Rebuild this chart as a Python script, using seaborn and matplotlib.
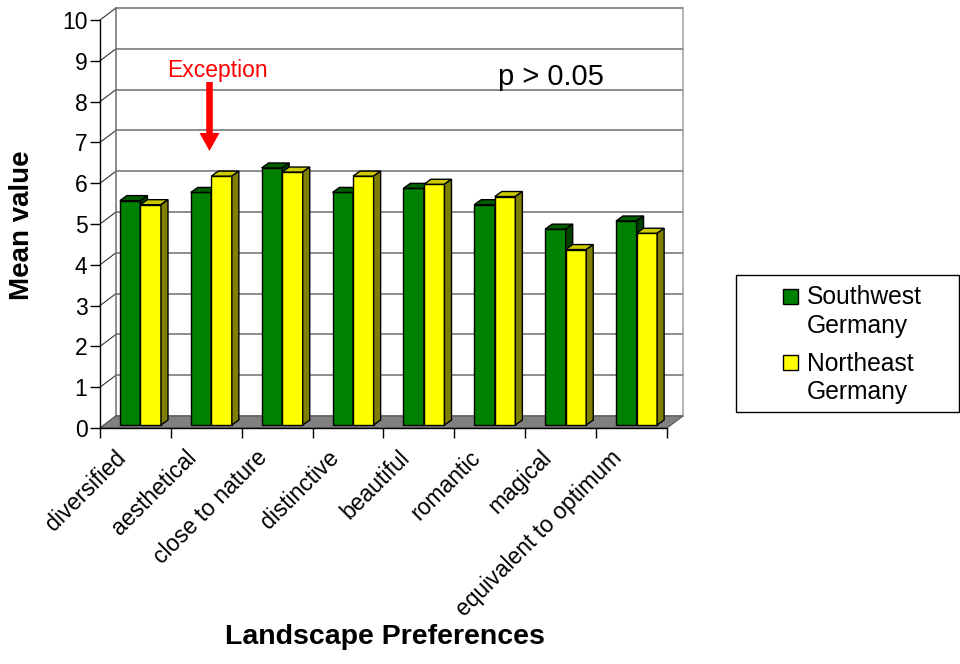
import numpy as np
import pandas as pd
import seaborn as sns
import matplotlib
matplotlib.use("Agg")
import matplotlib.pyplot as plt
from matplotlib.patches import Polygon, Rectangle, FancyArrowPatch
from matplotlib.transforms import ScaledTranslation

# ---- data -------------------------------------------------------------
categories = ["diversified", "aesthetical", "close to nature", "distinctive",
              "beautiful", "romantic", "magical", "equivalent to optimum"]
southwest = [5.5, 5.7, 6.3, 5.7, 5.8, 5.4, 4.8, 5.0]
northeast = [5.4, 6.1, 6.2, 6.1, 5.9, 5.6, 4.3, 4.7]
groups = ["Southwest Germany", "Northeast Germany"]
y_ticks = list(range(0, 11))

df = pd.DataFrame({
    "category": categories * 2,
    "value": southwest + northeast,
    "group": [groups[0]] * len(categories) + [groups[1]] * len(categories),
})

# ---- style ------------------------------------------------------------
sns.set_theme(style="ticks")
plt.rcParams["font.family"] = ["Liberation Sans", "DejaVu Sans"]
plt.rcParams.update({"text.color": "black", "axes.labelcolor": "black",
                     "xtick.color": "black", "ytick.color": "black"})

front_colors = ["#008000", "#FFFF00"]
top_colors = ["#005E00", "#CCCC00"]
side_colors = ["#004200", "#808000"]

fig = plt.figure(figsize=(9.6, 6.64), dpi=100)
W, H = 960, 664
ax = fig.add_axes([100 / W, (H - 428) / H, 567 / W, 408 / H])

sns.barplot(data=df, x="category", y="value", hue="group",
            palette=front_colors, saturation=1, width=0.58, gap=0,
            edgecolor="black", linewidth=1, ax=ax, legend=False)

ax.set_xlim(-0.5, 7.5)
ax.set_ylim(0, 10)

# pixel -> data scale factors
px_x = 567 / 8.0
px_y = 408 / 10.0
DX, DY = 16 / px_x, 12 / px_y        # depth of the floor / back wall
BX, BY = 7 / px_x, 5 / px_y          # depth of each bar

# ---- back wall, side wall and floor -----------------------------------
grid_c = "#6E6E6E"
for k in y_ticks:
    ax.plot([-0.5 + DX, 7.5 + DX], [k + DY, k + DY], color=grid_c, lw=1.1,
            clip_on=False, zorder=1)
    ax.plot([-0.5, -0.5 + DX], [k, k + DY], color="#333333", lw=0.8,
            clip_on=False, zorder=1)
ax.plot([-0.5 + DX, -0.5 + DX], [DY, 10 + DY], color=grid_c, lw=1.1,
        clip_on=False, zorder=1)
ax.plot([7.5 + DX, 7.5 + DX], [DY, 10 + DY], color="#A0A0A0", lw=1.1,
        clip_on=False, zorder=1)

floor = Polygon([(-0.5, 0), (7.5, 0), (7.5 + DX, DY), (-0.5 + DX, DY)],
                closed=True, facecolor="#808080", edgecolor="#555555",
                lw=0.8, clip_on=False, zorder=2)
ax.add_patch(floor)

# ---- 3-D bar faces ----------------------------------------------------
shift = ax.transData + ScaledTranslation(5 / 100, 3 / 100, fig.dpi_scale_trans)
for j, cont in enumerate(ax.containers):
    for bar in cont:
        x0, w, h = bar.get_x(), bar.get_width(), bar.get_height()
        bar.set_transform(shift)
        bar.set_zorder(3 + j)
        bar.set_clip_on(False)
        top = Polygon([(x0, h), (x0 + w, h), (x0 + w + BX, h + BY), (x0 + BX, h + BY)],
                      closed=True, facecolor=top_colors[j], edgecolor="black",
                      lw=1, transform=shift, zorder=3.5 + j, clip_on=False)
        side = Polygon([(x0 + w, 0), (x0 + w + BX, BY), (x0 + w + BX, h + BY), (x0 + w, h)],
                       closed=True, facecolor=side_colors[j], edgecolor="black",
                       lw=1, transform=shift, zorder=3.5 + j, clip_on=False)
        ax.add_patch(top)
        ax.add_patch(side)

# ---- axes, ticks, labels ---------------------------------------------
sns.despine(ax=ax, top=True, right=True)
for s in ("left", "bottom"):
    ax.spines[s].set_color("black")
    ax.spines[s].set_linewidth(1)
    ax.spines[s].set_zorder(2.5)

ax.set_yticks(y_ticks)
ax.tick_params(axis="y", left=True, length=7.5, width=1, pad=1.5,
               labelsize=16.5, colors="black")
ax.set_xticks(range(len(categories)))
ax.set_xticks(np.arange(-0.5, len(categories), 1), minor=True)
ax.tick_params(axis="x", which="minor", bottom=True, length=7.5, width=1,
               color="black")
ax.tick_params(axis="x", which="major", bottom=True, length=0, pad=26)
ax.set_xticklabels(categories, rotation=45, ha="right", va="center",
                   rotation_mode="anchor", fontsize=16.5, color="black")
label_shift = ScaledTranslation(-13 / 100, 10 / 100, fig.dpi_scale_trans)
for lbl in ax.get_xticklabels():
    lbl.set_transform(lbl.get_transform() + label_shift)

ax.set_ylabel("Mean value", fontsize=20, fontweight="bold")
ax.yaxis.set_label_coords((35 - 100) / 567, (428 - 225) / 408)
ax.set_xlabel("Landscape Preferences", fontsize=20.5, fontweight="bold")
ax.xaxis.set_label_coords((385 - 100) / 567, (428 - 624) / 408)

# ---- annotations ------------------------------------------------------
ax.text((498 - 100) / px_x - 0.5, (428 - 85) / px_y, "p > 0.05",
        fontsize=21, ha="left", va="baseline", color="black", zorder=6)
ax.text((217 - 100) / px_x - 0.5, (428 - 77) / px_y, "Exception",
        fontsize=16.5, ha="center", va="baseline", color="#FF0000", zorder=6)
arrow_x = (209.5 - 100) / px_x - 0.5
arrow = FancyArrowPatch((arrow_x, (428 - 82) / px_y), (arrow_x, (428 - 151) / px_y),
                        arrowstyle="simple,head_width=1.0,head_length=0.9,tail_width=0.33",
                        mutation_scale=14.4, color="#FF0000", lw=0,
                        shrinkA=0, shrinkB=0, zorder=6)
ax.add_patch(arrow)

# ---- legend (boxed, two-line entries with the swatch on the first line) --
fig.patches.append(Rectangle((736 / W, 1 - 412 / H), 223 / W, 137 / H,
                             transform=fig.transFigure, facecolor="white",
                             edgecolor="black", lw=1, zorder=0))
entry_top = [289, 355]
for j, name in enumerate(groups):
    y0 = entry_top[j]
    fig.patches.append(Rectangle((783 / W, 1 - (y0 + 15) / H), 15 / W, 15 / H,
                                 transform=fig.transFigure,
                                 facecolor=front_colors[j], edgecolor="black",
                                 lw=1, zorder=1))
    first, second = name.split(" ")
    fig.text(807 / W, 1 - (y0 + 15.5) / H, first, fontsize=17.7,
             ha="left", va="baseline", color="black")
    fig.text(807 / W, 1 - (y0 + 44.5) / H, second, fontsize=17.7,
             ha="left", va="baseline", color="black")

fig.savefig("out.png", dpi=100)
